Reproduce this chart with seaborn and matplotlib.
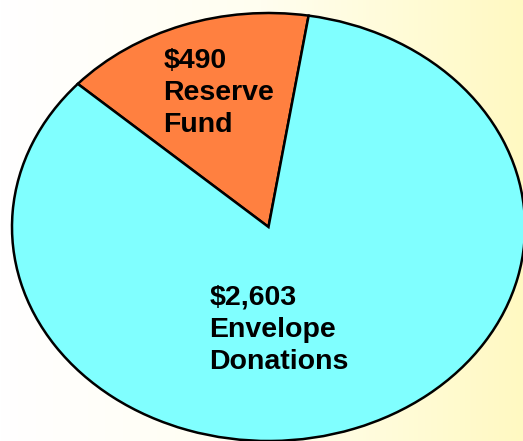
import numpy as np
import matplotlib
matplotlib.use("Agg")
import matplotlib.pyplot as plt
import seaborn as sns

# values shown on the chart
categories = ["Reserve\nFund", "Envelope\nDonations"]
amounts = [490, 2603]
amount_labels = ["$490", "$2,603"]

sns.set_style("white")
plt.rcParams['font.family'] = ['Liberation Sans', 'DejaVu Sans']

fig = plt.figure(figsize=(5.23, 4.41), dpi=100)

# background: white fading into pale yellow on the right
bg = fig.add_axes([0, 0, 1, 1])
grad = np.linspace(0, 1, 256)[None, :]
cmap = matplotlib.colors.LinearSegmentedColormap.from_list(
    "bg", ["#FFFFFF", "#FFFEF0", "#FFF9C2"])
bg.imshow(grad, aspect="auto", cmap=cmap, extent=[0, 1, 0, 1])
bg.set_axis_off()

# elliptical pie: stretch the axes so the circle becomes an ellipse
ax = fig.add_axes([12 / 523, 0.0 / 441, 513 / 523, 428 / 441])
colors = ["#FF8040", "#80FFFF"]
wedges, _ = ax.pie(amounts, colors=colors, startangle=81, counterclock=True,
                   wedgeprops=dict(edgecolor="black", linewidth=1.8))
ax.set_aspect("auto")
ax.set_xlim(-1, 1)
ax.set_ylim(-1, 1)
ax.set_axis_off()

label_pos = [(-0.41, 0.625), (-0.23, -0.48)]
for (x, y), amt, cat in zip(label_pos, amount_labels, categories):
    ax.text(x, y, amt + "\n" + cat, ha="left", va="center",
            fontsize=20.5, fontweight="bold", color="black",
            linespacing=1.3)

fig.savefig("out.png", dpi=100)
